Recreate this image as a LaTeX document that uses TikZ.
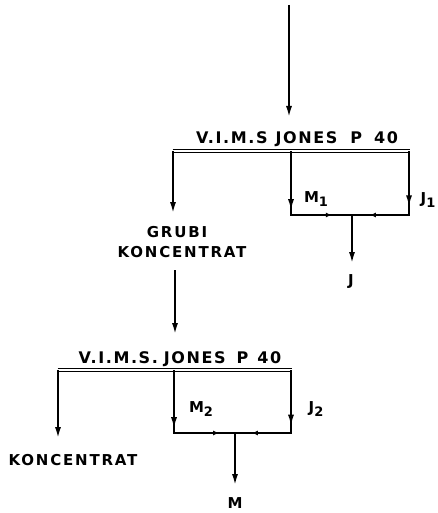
\documentclass[tikz,border=0pt]{standalone}
\usepackage{fontspec}
\newfontfamily\labfont[LetterSpace=12]{DejaVu Sans Bold}
\newfontfamily\scrfont[LetterSpace=10]{DejaVu Sans Bold}
\usetikzlibrary{arrows.meta,decorations.markings}
\tikzset{
  tip/.tip={Latex[length=12pt,width=6pt]},
  flow/.style={line width=2.2pt,-tip},
  leg/.style={line width=2.2pt},
  screen/.style={line width=1pt,double,double distance=2pt},
  midarrow/.style={postaction={decorate},decoration={markings,mark=at position #1 with {\arrow{tip}}}},
  smallarrow/.style={postaction={decorate},decoration={markings,mark=at position #1 with {\arrow{Latex[length=6pt,width=5pt]}}}},
  lab/.style={font=\labfont\fontsize{15}{17}\selectfont,inner sep=0pt},
  big/.style={font=\scrfont\fontsize{16}{18}\selectfont,inner sep=0pt},
}
\newcommand{\sbs}[1]{\raisebox{-4pt}{\fontsize{13}{13}\selectfont #1}}
\begin{document}
\begin{tikzpicture}[x=1pt,y=-1pt]
\useasboundingbox (0,0) rectangle (437,513);
% feed
\coordinate (f0) at (289,5);
\coordinate (f1) at (289,118);
\draw[flow] (f0) -- (f1);
% screen 1
\node[big] (s1) at (297,139) {V.I.M.S\hspace{8pt}JONES\hspace{13pt}P\hspace{12pt}40};
\coordinate (b1l) at (173,151.5);
\coordinate (b1m) at (291,151.5);
\coordinate (b1r) at (409,151.5);
\draw[screen] ([xshift=-0.5pt]b1l) -- ([xshift=0.5pt]b1r);
\coordinate (l1e) at (173,214);
\draw[flow] (b1l) -- (l1e);
\coordinate (m1c) at (291,215);
\coordinate (r1c) at (409,215);
\coordinate (j1c) at (352,215);
\coordinate (j1e) at (352,264);
\draw[leg,midarrow=0.94] (b1m) -- (m1c);
\draw[leg,midarrow=0.88] (b1r) -- (r1c);
\draw[leg,line cap=rect] (m1c) -- (r1c);
\draw[leg,smallarrow=0.8] (m1c) -- ([xshift=-10pt]j1c);
\draw[leg,smallarrow=0.8] (r1c) -- ([xshift=8pt]j1c);
\draw[flow] (j1c) -- (j1e);
\node[lab] (m1) at (316,199) {M\sbs{1}};
\node[lab] (j1) at (428,200) {J\sbs{1}};
\node[lab] (j) at (351,282) {J};
\node[lab] (g1) at (177,232) {GRUBI};
\node[lab] (g2) at (182,252) {KONCENTRAT};
\coordinate (g3) at (175,270);
\coordinate (g4) at (175,335);
\draw[flow] (g3) -- (g4);
% screen 2
\node[big] (s2) at (180,359) {V.I.M.S.\hspace{6pt}JONES\hspace{11pt}P\hspace{9pt}40};
\coordinate (b2l) at (58,370);
\coordinate (b2m) at (174,370);
\coordinate (b2r) at (291,370);
\draw[screen] ([xshift=-0.5pt]b2l) -- ([xshift=0.5pt]b2r);
\coordinate (l2e) at (58,439);
\draw[flow] (b2l) -- (l2e);
\coordinate (m2c) at (174,433);
\coordinate (r2c) at (291,433);
\coordinate (j2c) at (235,433);
\coordinate (j2e) at (235,486);
\draw[leg,midarrow=0.94] (b2m) -- (m2c);
\draw[leg,midarrow=0.9] (b2r) -- (r2c);
\draw[leg,line cap=rect] (m2c) -- (r2c);
\draw[leg,smallarrow=0.85] (m2c) -- ([xshift=-8pt]j2c);
\draw[leg,smallarrow=0.8] (r2c) -- ([xshift=7pt]j2c);
\draw[flow] (j2c) -- (j2e);
\node[lab] (m2) at (201,409) {M\sbs{2}};
\node[lab] (j2) at (316,409) {J\sbs{2}};
\node[lab] (k) at (73,460) {KONCENTRAT};
\node[lab] (m) at (235,503) {M};
\end{tikzpicture}
\end{document}
